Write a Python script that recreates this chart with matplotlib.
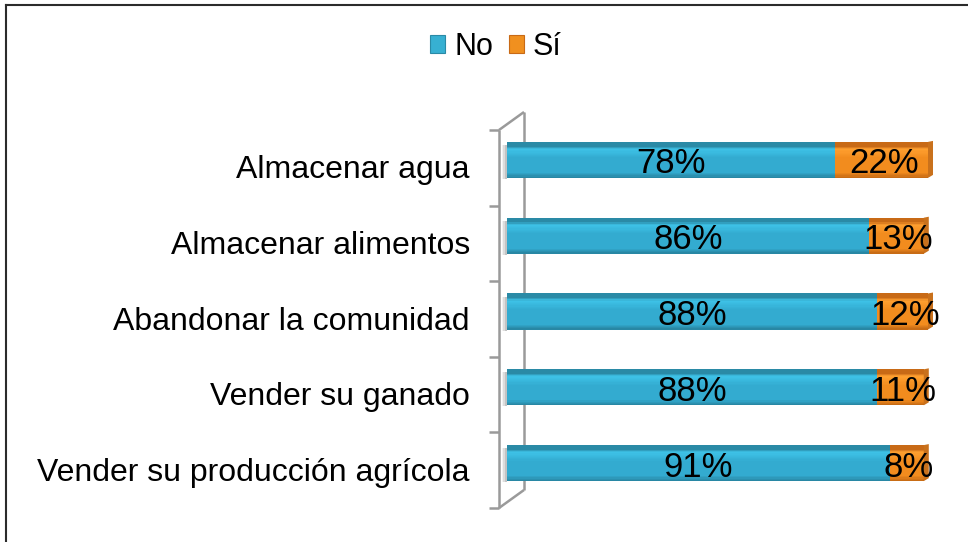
import numpy as np
import matplotlib
matplotlib.use("Agg")
import matplotlib.pyplot as plt
from matplotlib.patches import Patch, Polygon, Rectangle
from matplotlib.lines import Line2D
from matplotlib.colors import to_rgb

plt.rcParams['font.family'] = ['Liberation Sans', 'DejaVu Sans']

categories = ["Almacenar agua", "Almacenar alimentos", "Abandonar la comunidad",
              "Vender su ganado", "Vender su producción agrícola"]
no_vals = [78, 86, 88, 88, 91]
si_vals = [22, 13, 12, 11, 8]
series_names = ["No", "Sí"]
labels_no = ["78%", "86%", "88%", "88%", "91%"]
labels_si = ["22%", "13%", "12%", "11%", "8%"]

W, H = 968, 542
fig = plt.figure(figsize=(W / 100, H / 100), dpi=100)
fig.patch.set_facecolor("white")

ax_left, ax_right = 507, 928
ax_top, ax_bot = 122, 501
ax = fig.add_axes([ax_left / W, 1 - ax_bot / H, (ax_right - ax_left) / W, (ax_bot - ax_top) / H])
n = len(categories)
ax.set_xlim(0, 100)
ax.set_ylim(n - 0.5, -0.5)
ax.axis("off")

px_x = 100 / (ax_right - ax_left)        # data units per pixel (x)
px_y = n / (ax_bot - ax_top)              # data units per pixel (y)

teal = dict(top="#2a8aa6", light="#3ec3e8", mid="#33abd0", bot="#27839e", side="#2a8fab")
orange = dict(top="#c86a16", light="#ffa030", mid="#f28c1e", bot="#c36814", side="#c9711c")

bar_h = 36 * px_y
pos = np.arange(n)


def grad_bar(y, left, width, c, zorder=3):
    stops = [(0.0, c["top"]), (0.12, c["top"]), (0.2, c["light"]), (0.45, c["mid"]),
             (0.85, c["mid"]), (1.0, c["bot"])]
    N = 30
    edges = np.linspace(0, 1, N + 1)
    ts = [s[0] for s in stops]
    cols = np.array([to_rgb(s[1]) for s in stops])
    for k in range(N):
        t = (edges[k] + edges[k + 1]) / 2
        col = [np.interp(t, ts, cols[:, j]) for j in range(3)]
        y0 = y - bar_h / 2 + edges[k] * bar_h
        ax.barh(y0 + bar_h / N / 2, width, left=left, height=bar_h / N * 1.02,
                color=col, linewidth=0, zorder=zorder)


# 3D wall
dx_back = (524 - 499) * px_x
front_x = (499 - ax_left) * px_x
front_top = -0.5 + (130 - 122) * px_y
dy_back = -18 * px_y
step = (508 - 130) * px_y / n
wall_kw = dict(color="#9a9a9a", lw=1.8, clip_on=False, zorder=1, solid_capstyle="butt")
ax.plot([front_x, front_x], [front_top, front_top + n * step], **wall_kw)
ax.plot([front_x + dx_back] * 2, [front_top + dy_back, front_top + n * step + dy_back], **wall_kw)
ax.plot([front_x, front_x + dx_back], [front_top, front_top + dy_back], **wall_kw)
ax.plot([front_x, front_x + dx_back], [front_top + n * step, front_top + n * step + dy_back], **wall_kw)
for k in range(n + 1):
    yy = front_top + k * step
    ax.plot([front_x - 10 * px_x, front_x], [yy, yy], **wall_kw)

# soft shadow of each bar on the wall
for i in range(n):
    for k, a in enumerate([0.10, 0.18, 0.28]):
        ax.add_patch(Rectangle(((502 - ax_left + k * 1.5) * px_x, pos[i] - bar_h / 2 + 3 * px_y),
                               (ax_left - 502 - k * 1.5) * px_x, bar_h - 2 * px_y,
                               facecolor="#808080", alpha=a, edgecolor="none",
                               zorder=2, clip_on=False))

# bars
for i in range(n):
    grad_bar(pos[i], 0, no_vals[i], teal)
    grad_bar(pos[i], no_vals[i], si_vals[i], orange)
    total = no_vals[i] + si_vals[i]
    yt = pos[i] - bar_h / 2
    yb = pos[i] + bar_h / 2
    side = Polygon([(total, yt), (total + 5 * px_x, yt - 1 * px_y),
                    (total + 5 * px_x, yb - 3 * px_y), (total, yb)],
                   closed=True, facecolor=orange["side"], edgecolor="none", zorder=3, clip_on=False)
    ax.add_patch(side)
    ax.text(no_vals[i] / 2, pos[i] + 4 * px_y, labels_no[i], ha="center", va="center",
            fontsize=25, color="black", zorder=5)
    ax.text(no_vals[i] + si_vals[i] / 2 + 2 * px_x, pos[i] + 4 * px_y, labels_si[i], ha="center",
            va="center", fontsize=25, color="black", zorder=5, clip_on=False)

# category labels
for i in range(n):
    ax.text((470 - ax_left) * px_x, pos[i] + 10 * px_y, categories[i], ha="right", va="center",
            fontsize=23, color="black", clip_on=False)

# legend
handles = [Patch(facecolor="#37b0d2", edgecolor="#2a8aa6", linewidth=0.8),
           Patch(facecolor="#f0901f", edgecolor="#c86a16", linewidth=0.8)]
leg = fig.legend(handles, series_names, loc="center", bbox_to_anchor=(496 / W, 1 - 47 / H),
                 ncol=2, frameon=False, fontsize=22, handlelength=0.5, handleheight=0.5,
                 handletextpad=0.3, columnspacing=0.5, borderpad=0)

# outer frame (top and left)
fig.add_artist(Line2D([6 / W, 1], [1 - 5 / H, 1 - 5 / H], color="#2b2b2b", lw=1.5))
fig.add_artist(Line2D([6 / W, 6 / W], [0, 1 - 5 / H], color="#2b2b2b", lw=1.5))

fig.savefig("out.png", dpi=100, facecolor="white")
